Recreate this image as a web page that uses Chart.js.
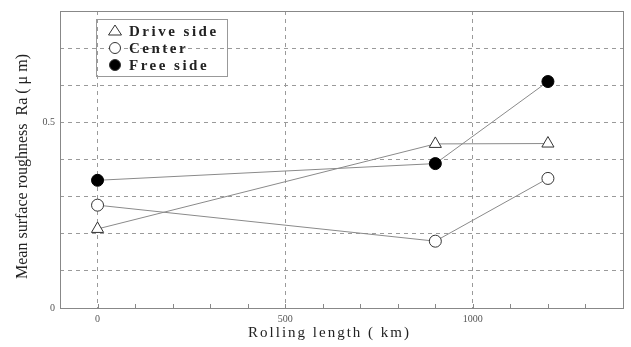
<!DOCTYPE html>
<html>
<head>
<meta charset="utf-8">
<script src="https://cdn.jsdelivr.net/npm/chart.js@4/dist/chart.umd.min.js"></script>
<style>
  html, body { margin: 0; padding: 0; background: #fff; }
  #wrap { width: 631px; height: 347px; }
</style>
</head>
<body>
<div id="wrap"><canvas id="rough"></canvas></div>
<script>
// data
var rollingLength = [0, 900, 1200];            // km
var driveSide = [0.213, 0.442, 0.443];         // Ra (um)
var centerVals = [0.277, 0.180, 0.349];
var freeSide = [0.344, 0.389, 0.610];
var seriesNames = ['Drive side', 'Center', 'Free side'];
var xLabelsShown = [0, 500, 1000];
var yLabelsShown = [0, 0.5];

function pts(vals) {
  return rollingLength.map(function (x, i) { return { x: x, y: vals[i] }; });
}

var serif = "'Liberation Serif', 'DejaVu Serif', serif";

// legend box inside the plot, with a frame
var boxLegend = {
  id: 'boxLegend',
  afterDraw: function (chart) {
    var ctx = chart.ctx, a = chart.chartArea;
    var x0 = a.left + 36, y0 = a.top + 8, w = 131, h = 57;
    ctx.save();
    ctx.strokeStyle = '#999';
    ctx.lineWidth = 1;
    ctx.strokeRect(x0 + 0.5, y0 + 0.5, w, h);
    ctx.font = 'bold 15px ' + serif;
    ctx.letterSpacing = '2.5px';
    ctx.textBaseline = 'middle';
    chart.data.datasets.forEach(function (ds, i) {
      var cy = y0 + 12 + i * 17, cx = x0 + 19;
      ctx.lineWidth = 1;
      ctx.strokeStyle = '#333';
      ctx.beginPath();
      if (ds.pointStyle === 'triangle') {
        ctx.moveTo(cx, cy - 6);
        ctx.lineTo(cx + 6.5, cy + 4);
        ctx.lineTo(cx - 6.5, cy + 4);
        ctx.closePath();
        ctx.stroke();
      } else {
        ctx.arc(cx, cy, 5.5, 0, Math.PI * 2);
        ctx.fillStyle = ds.pointBackgroundColor;
        ctx.fill();
        ctx.stroke();
      }
      ctx.fillStyle = '#222';
      ctx.fillText(ds.label, x0 + 33, cy + 1);
    });
    ctx.restore();
  }
};

// frame around the plot, small inward ticks on the x axis, title tweaks
var frameTicks = {
  id: 'frameTicks',
  beforeDraw: function (chart) {
    var xs = chart.scales.x, ys = chart.scales.y;
    if (!xs._patched) {
      var ox = xs.drawTitle;
      xs.drawTitle = function () {
        this.ctx.save();
        this.ctx.letterSpacing = '2px';
        this.ctx.translate(-12, 3);
        ox.apply(this, arguments);
        this.ctx.restore();
      };
      xs._patched = true;
    }
    if (!ys._patched) {
      var oy = ys.drawTitle;
      ys.drawTitle = function () {
        this.ctx.save();
        this.ctx.translate(1, 7);
        oy.apply(this, arguments);
        this.ctx.restore();
      };
      ys._patched = true;
    }
  },
  afterDraw: function (chart) {
    var ctx = chart.ctx, a = chart.chartArea, xs = chart.scales.x;
    ctx.save();
    ctx.strokeStyle = '#888';
    ctx.lineWidth = 1;
    ctx.strokeRect(Math.round(a.left) + 0.5, Math.round(a.top) + 0.5,
      Math.round(a.right - a.left), Math.round(a.bottom - a.top));
    xs.ticks.forEach(function (t) {
      var px = Math.round(xs.getPixelForValue(t.value)) + 0.5;
      if (px <= a.left + 1 || px >= a.right - 1) return;
      ctx.beginPath();
      ctx.moveTo(px, a.bottom);
      ctx.lineTo(px, a.bottom - 4);
      ctx.stroke();
    });
    ctx.restore();
  }
};

var rough = document.getElementById('rough').getContext('2d');
new Chart(rough, {
  type: 'line',
  data: {
    datasets: [{
      label: seriesNames[0],
      data: pts(driveSide),
      borderColor: '#8a8a8a',
      borderWidth: 1,
      pointStyle: 'triangle',
      pointRadius: 7,
      pointBackgroundColor: '#fff',
      pointBorderColor: '#333',
      pointBorderWidth: 1
    }, {
      label: seriesNames[1],
      data: pts(centerVals),
      borderColor: '#8a8a8a',
      borderWidth: 1,
      pointStyle: 'circle',
      pointRadius: 6,
      pointBackgroundColor: '#fff',
      pointBorderColor: '#333',
      pointBorderWidth: 1
    }, {
      label: seriesNames[2],
      data: pts(freeSide),
      borderColor: '#8a8a8a',
      borderWidth: 1,
      pointStyle: 'circle',
      pointRadius: 6,
      pointBackgroundColor: '#000',
      pointBorderColor: '#000',
      pointBorderWidth: 1
    }]
  },
  options: {
    responsive: true,
    maintainAspectRatio: false,
    animation: false,
    events: [],
    layout: { padding: { left: 0, right: 8, top: 9, bottom: 0 } },
    plugins: { legend: { display: false }, tooltip: { enabled: false } },
    scales: {
      x: {
        type: 'linear',
        min: -100,
        max: 1400,
        afterFit: function (s) { s.height = 39; },
        border: { display: false, dash: [4, 4] },
        grid: {
          drawTicks: false,
          lineWidth: 1,
          color: function (c) {
            return xLabelsShown.indexOf(c.tick.value) >= 0 ? '#9a9a9a' : 'rgba(0,0,0,0)';
          }
        },
        ticks: {
          stepSize: 100,
          autoSkip: false,
          maxRotation: 0,
          padding: 5,
          color: '#555',
          font: { family: serif, size: 10 },
          callback: function (v) { return xLabelsShown.indexOf(v) >= 0 ? String(v) : ''; }
        },
        title: {
          display: true,
          text: 'Rolling length ( km)',
          color: '#222',
          font: { family: serif, size: 15 },
          padding: { top: 0, bottom: 8 }
        }
      },
      y: {
        min: 0,
        max: 0.8,
        afterFit: function (s) { s.width = 60; },
        border: { display: false, dash: [4, 4] },
        grid: {
          drawTicks: false,
          lineWidth: 1,
          color: function (c) {
            var v = Math.round(c.tick.value * 10);
            return (v > 0 && v < 8) ? '#9a9a9a' : 'rgba(0,0,0,0)';
          }
        },
        ticks: {
          stepSize: 0.1,
          autoSkip: false,
          padding: 5,
          color: '#555',
          font: { family: serif, size: 10 },
          callback: function (v) {
            var r = Math.round(v * 10) / 10;
            return yLabelsShown.indexOf(r) >= 0 ? String(r) : '';
          }
        },
        title: {
          display: true,
          text: 'Mean surface roughness  Ra ( μ m)',
          color: '#222',
          font: { family: serif, size: 16 },
          padding: { top: 12, bottom: 0 }
        }
      }
    }
  },
  plugins: [frameTicks, boxLegend]
});
</script>
</body>
</html>
